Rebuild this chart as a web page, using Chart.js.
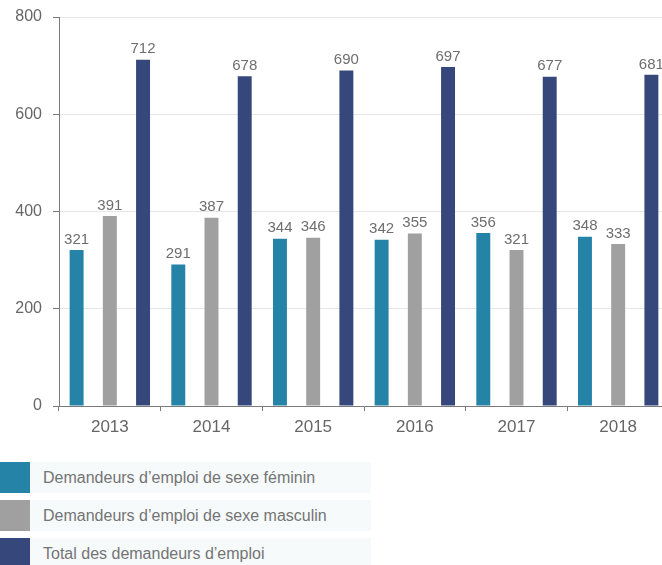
<!DOCTYPE html>
<html>
<head>
<meta charset="utf-8">
<script src="https://cdn.jsdelivr.net/npm/chart.js@4"></script>
<style>
  html, body { margin: 0; padding: 0; background: #fff; overflow: hidden; }
  body { width: 662px; height: 565px; position: relative; font-family: "Liberation Sans", Arial, sans-serif; }
  #wrap { position: absolute; left: 0; top: 0; width: 669px; height: 445px; }
  .legend { position: absolute; left: 0; top: 462px; }
  .item { display: flex; height: 31px; margin-bottom: 7px; }
  .swatch { width: 30px; height: 31px; }
  .label { width: 328px; background: #f6fafb; color: #747474; font-size: 16px; line-height: 31px; padding-left: 13px; white-space: nowrap; }
</style>
</head>
<body>
<div id="wrap"><canvas id="chart"></canvas></div>
<div class="legend" id="legend"></div>
<script>
// Data
const years = ['2013', '2014', '2015', '2016', '2017', '2018'];
const femmes = [321, 291, 344, 342, 356, 348];
const hommes = [391, 387, 346, 355, 321, 333];
const total = [712, 678, 690, 697, 677, 681];
const seriesNames = [
    'Demandeurs d\u2019emploi de sexe f\u00e9minin',
    'Demandeurs d\u2019emploi de sexe masculin',
    'Total des demandeurs d\u2019emploi'
];
const colors = ['#2583a8', '#a0a0a0', '#36487b'];

// Legend (HTML)
const legend = document.getElementById('legend');
seriesNames.forEach((name, i) => {
    const item = document.createElement('div');
    item.className = 'item';
    item.innerHTML = `<div class="swatch" style="background:${colors[i]}"></div><div class="label">${name}</div>`;
    legend.appendChild(item);
});

// Value labels above bars
const valueLabels = {
    id: 'valueLabels',
    afterDatasetsDraw(chart) {
        const ctx = chart.ctx;
        ctx.save();
        ctx.font = '15px "Liberation Sans", Arial, sans-serif';
        ctx.fillStyle = '#6e6e6e';
        ctx.textAlign = 'center';
        ctx.textBaseline = 'bottom';
        chart.data.datasets.forEach((ds, i) => {
            chart.getDatasetMeta(i).data.forEach((bar, j) => {
                ctx.fillText(ds.data[j], bar.x, bar.y - 3);
            });
        });
        ctx.restore();
    }
};

const ctx = document.getElementById('chart').getContext('2d');
const chart = new Chart(ctx, {
    type: 'bar',
    data: {
        labels: years,
        datasets: [femmes, hommes, total].map((d, i) => ({
            label: seriesNames[i],
            data: d,
            backgroundColor: colors[i],
            categoryPercentage: 0.98,
            barPercentage: 0.42
        }))
    },
    options: {
        responsive: true,
        maintainAspectRatio: false,
        animation: false,
        layout: { padding: { top: 17, right: 0, left: 0, bottom: 0 } },
        plugins: {
            legend: { display: false },
            tooltip: { enabled: false }
        },
        scales: {
            x: {
                afterFit(scale) { scale.height = 39; },
                grid: {
                    offset: true,
                    drawOnChartArea: false,
                    tickLength: 5,
                    tickColor: '#7a7a7a'
                },
                border: { color: '#7a7a7a', width: 1 },
                ticks: {
                    color: '#666666',
                    padding: 6,
                    font: { size: 17, family: '"Liberation Sans", Arial, sans-serif' }
                }
            },
            y: {
                min: 0,
                max: 800,
                afterFit(scale) {
                    scale.width = 59;
                    scale.paddingTop = 0;
                    scale.paddingBottom = 0;
                },
                grid: {
                    color: '#e6e6e6',
                    tickColor: '#7a7a7a',
                    tickLength: 6
                },
                border: { color: '#7a7a7a', width: 1 },
                ticks: {
                    stepSize: 200,
                    color: '#666666',
                    padding: 11,
                    font: { size: 16, family: '"Liberation Sans", Arial, sans-serif' }
                }
            }
        }
    },
    plugins: [valueLabels]
});
</script>
</body>
</html>
